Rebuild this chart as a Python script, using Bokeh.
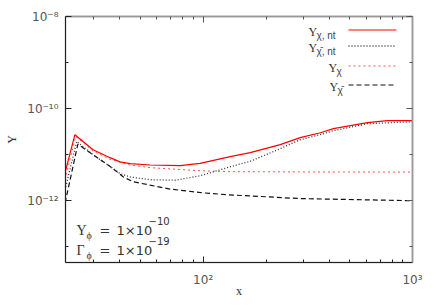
from bokeh.plotting import figure
from bokeh.models import (Range1d, LogAxis, FixedTicker, CustomJSTickFormatter,
                          Label, Arrow)
from bokeh.embed import file_html
from bokeh.resources import INLINE

# ---- data ----
x_chi_nt = [21.9, 24.4, 29.8, 35.9, 40.1, 44.8, 55.8, 77.6, 96.8, 134.7, 167.8, 233.5, 291, 363, 419, 609, 759, 1000]
y_chi_nt = [4.09e-12, 2.73e-11, 1.29e-11, 8.65e-12, 7.0e-12, 6.4e-12, 6.0e-12, 5.8e-12, 6.5e-12, 9.1e-12, 1.11e-11,
            1.66e-11, 2.35e-11, 3.01e-11, 3.68e-11, 4.97e-11, 5.49e-11, 5.49e-11]

x_chibar_nt = [21.9, 24.9, 29.8, 35.9, 40.1, 44.8, 55.8, 73.4, 96.8, 134.7, 167.8, 233.5, 291, 363, 419, 609, 1000]
y_chibar_nt = [1.75e-12, 1.95e-11, 1.0e-11, 5.6e-12, 3.9e-12, 3.3e-12, 2.88e-12, 2.8e-12, 3.5e-12, 5.5e-12, 7.2e-12,
               1.36e-11, 2.13e-11, 2.73e-11, 3.33e-11, 4.73e-11, 5.22e-11]

x_chi = [21.9, 24.6, 29.8, 35.9, 44.8, 55.8, 96.8, 134.7, 291, 1000]
y_chi = [2.9e-12, 2.5e-11, 1.2e-11, 8.0e-12, 6.0e-12, 5.25e-12, 4.5e-12, 4.3e-12, 4.25e-12, 4.2e-12]

x_chibar = [21.9, 25.2, 29.8, 35.9, 41.6, 46.2, 69.5, 100, 130, 291, 976, 1000]
y_chibar = [9.0e-13, 1.7e-11, 1.0e-11, 5.6e-12, 3.3e-12, 2.6e-12, 1.8e-12, 1.49e-12, 1.36e-12, 1.12e-12, 1.01e-12, 1.0e-12]

x_major = [100, 1000]
x_minor = [30, 40, 50, 60, 70, 80, 90, 200, 300, 400, 500, 600, 700, 800, 900]
y_major = [1e-8, 1e-10, 1e-12]
y_minor = [1e-9, 1e-11, 1e-13]

SERIF = "Liberation Serif"
SANS = "DejaVu Sans"
RED = "#ff0000"

p = figure(frame_width=347, frame_height=246, x_axis_type="log", y_axis_type="log",
           x_range=Range1d(22, 1000), y_range=Range1d(4.6e-14, 1e-8),
           output_backend="svg", toolbar_location=None,
           min_border_left=65, min_border_right=24, min_border_top=16, min_border_bottom=43)
p.grid.visible = False
p.outline_line_color = "#999999"
p.outline_line_width = 1.5
p.background_fill_color = "white"
p.border_fill_color = "white"

fmt = CustomJSTickFormatter(code="""
const e = Math.round(Math.log10(tick));
const sup = {'-':'\\u207b','0':'\\u2070','1':'\\u00b9','2':'\\u00b2','3':'\\u00b3','4':'\\u2074','5':'\\u2075','6':'\\u2076','7':'\\u2077','8':'\\u2078','9':'\\u2079'};
return '10' + String(e).split('').map(c => sup[c]).join('');
""")

for ax, maj, mino in ((p.xaxis[0], x_major, x_minor), (p.yaxis[0], y_major, y_minor)):
    ax.ticker = FixedTicker(ticks=maj, minor_ticks=mino)
    ax.formatter = fmt
    ax.axis_line_color = "#222222"
    ax.major_tick_in = 6
    ax.major_tick_out = 0
    ax.minor_tick_in = 3
    ax.minor_tick_out = 0
    ax.major_tick_line_color = "#222222"
    ax.minor_tick_line_color = "#222222"
    ax.major_label_text_font = SANS
    ax.major_label_text_font_size = "12px"
    ax.major_label_text_color = "#555555"
    ax.axis_label_text_font = SERIF
    ax.axis_label_text_font_style = "normal"
    ax.axis_label_text_font_size = "12px"
    ax.axis_label_text_color = "#333333"

p.xaxis[0].axis_label = "x"
p.xaxis[0].major_label_standoff = 10
p.xaxis[0].axis_label_standoff = -6
p.yaxis[0].axis_label = "Y"
p.yaxis[0].major_label_standoff = 7
p.yaxis[0].axis_label_standoff = 5

# mirrored ticks on top and right
top = LogAxis(ticker=FixedTicker(ticks=x_major, minor_ticks=x_minor))
right = LogAxis(ticker=FixedTicker(ticks=y_major, minor_ticks=y_minor))
for ax in (top, right):
    ax.major_label_text_color = None
    ax.major_label_text_font_size = "6px"
    ax.axis_line_color = "#999999"
    ax.axis_line_width = 1.5
    ax.major_tick_in = 6
    ax.major_tick_out = 0
    ax.minor_tick_in = 3
    ax.minor_tick_out = 0
    ax.major_tick_line_color = "#555555"
    ax.minor_tick_line_color = "#555555"
    ax.major_label_standoff = 0
p.add_layout(top, "above")
p.add_layout(right, "right")

# curves
p.line(x_chibar, y_chibar, line_color="#111111", line_width=1.2, line_dash="5 3")
p.line(x_chi, y_chi, line_color="#ff5050", line_width=1.0, line_dash="2 3")
p.line(x_chibar_nt, y_chibar_nt, line_color="#333333", line_width=1.3, line_dash="1 2")
p.line(x_chi_nt, y_chi_nt, line_color=RED, line_width=1.2)

# legend (manual, label left of sample)
def txt(x, y, s, size, font=SERIF, color="#333333", align="left"):
    p.add_layout(Label(x=x, y=y, x_units="screen", y_units="screen", text=s,
                       text_font=font, text_font_size=size, text_color=color,
                       text_align=align, text_baseline="middle"))

def seg(y, color, dash, width):
    p.add_layout(Arrow(end=None, x_start=283, y_start=y, x_end=331, y_end=y,
                       start_units="screen", end_units="screen",
                       line_color=color, line_dash=dash, line_width=width))

legend_rows = [
    (243, 231, "\u03c7, nt", RED, "solid", 1.2),
    (243, 215, "\u03c7\u0304, nt", "#333333", "1 2", 1.3),
    (263, 195, "\u03c7", "#ff5050", "2 3", 1.0),
    (264, 176, "\u03c7\u0304", "#111111", "5 3", 1.2),
]
for (lx, ly, sub, col, dash, w) in legend_rows:
    txt(lx, ly, "Y", "12px")
    txt(lx + 8, ly - 4, sub, "10px", font="Liberation Sans", color="#444444")
    seg(ly + 1.5, col, dash, w)

# parameter annotations
txt(11, 32, "Y", "14px")
txt(21, 27, "\u03d5", "10px")
txt(34, 32, "=", "13px", font=SANS)
txt(51, 32, "1\u00d710", "13px", font=SANS)
txt(83, 42, "\u221210", "10px", font=SANS)

txt(11, 12, "\u0393", "14px")
txt(21, 7, "\u03d5", "10px")
txt(34, 12, "=", "13px", font=SANS)
txt(51, 12, "1\u00d710", "13px", font=SANS)
txt(83, 22, "\u221219", "10px", font=SANS)

open("out.html", "w").write(file_html(p, INLINE))
